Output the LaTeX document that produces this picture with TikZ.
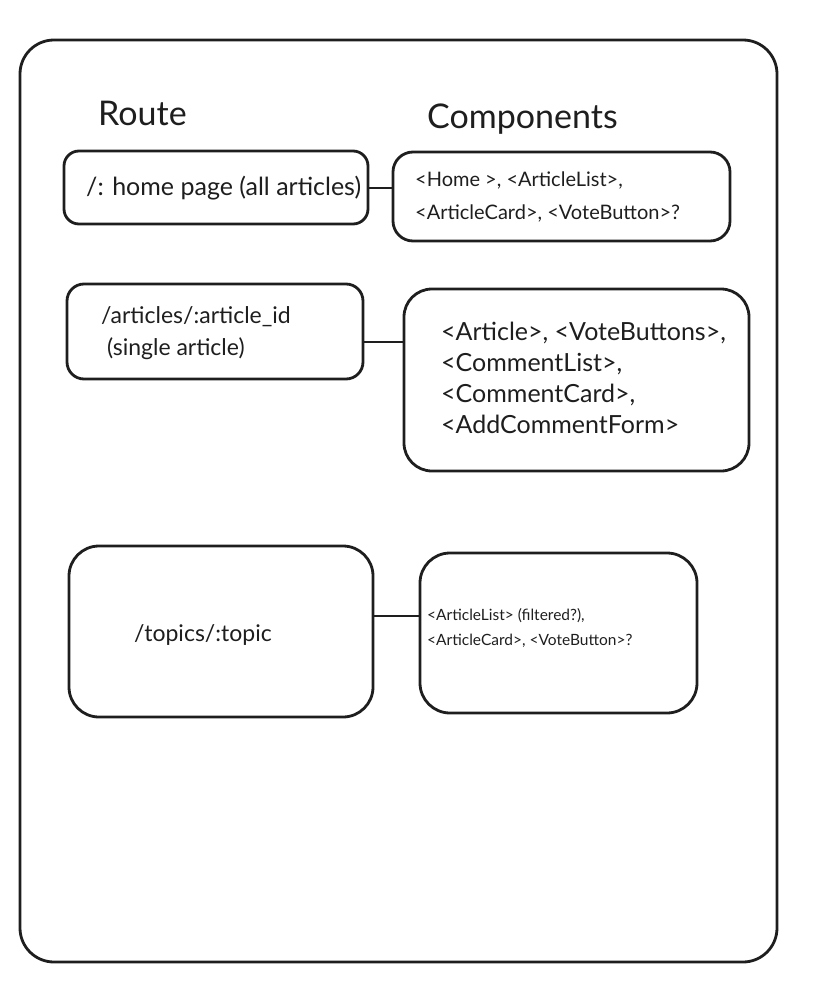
\documentclass[tikz,border=0pt]{standalone}
\usepackage{fontspec}
\setmainfont{Lato}
\definecolor{ink}{HTML}{1E1E1E}
\begin{document}
\begin{tikzpicture}[x=1pt,y=-1pt,
  frame/.style={draw=ink,line width=2.8pt,rounded corners=#1},
  conn/.style={draw=ink,line width=2.8pt},
  lbl/.style={inner sep=0pt,anchor=base west,text=ink,align=left},
  head/.style={lbl,font=\fontsize{34}{40}\selectfont}]
\useasboundingbox (0,0) rectangle (826,990);
% outer frame
\draw[frame=34pt] (20,40) rectangle (777,962);
% headings
\node[head] (route) at (98,125) {Route};
\node[head] (comp) at (427,128) {Components};
% boxes
\draw[frame=15pt] (64,151) rectangle (368,224);
\coordinate (b1e) at (368,188);
\draw[frame=20pt] (393,152) rectangle (730,241);
\coordinate (b2w) at (393,188);
\draw[frame=17pt] (67,284) rectangle (363,379);
\coordinate (b3e) at (363,342);
\draw[frame=28pt] (404,289) rectangle (749,471);
\coordinate (b4w) at (404,342);
\draw[frame=30pt] (69,546) rectangle (373,717);
\coordinate (b5e) at (373,616);
\draw[frame=30pt] (420,553) rectangle (697,713);
\coordinate (b6w) at (420,616);
% connectors
\draw[conn] (b1e) -- (b2w);
\draw[conn] (b3e) -- (b4w);
\draw[conn] (b5e) -- (b6w);
% texts (base anchor = baseline of last line)
\node[lbl,font=\fontsize{25}{32}\selectfont] (t1) at (86,195) {/: home page (all articles)};
\node[lbl,font=\fontsize{20}{33}\selectfont] (t2) at (415,219) {<Home >, <ArticleList>,\\<ArticleCard>, <VoteButton>?};
\node[lbl,font=\fontsize{23}{32}\selectfont] (t3) at (101,355) {/articles/:article\_id\\\ (single article)};
\node[lbl,font=\fontsize{25}{31}\selectfont] (t4) at (441,433) {<Article>, <VoteButtons>,\\<CommentList>,\\<CommentCard>,\\<AddCommentForm>};
\node[lbl,font=\fontsize{23}{32}\selectfont] (t5) at (134,641) {/topics/:topic};
\node[lbl,font=\fontsize{15.5}{25}\selectfont] (t6) at (427,645) {<ArticleList> (filtered?),\\<ArticleCard>, <VoteButton>?};
\end{tikzpicture}
\end{document}
